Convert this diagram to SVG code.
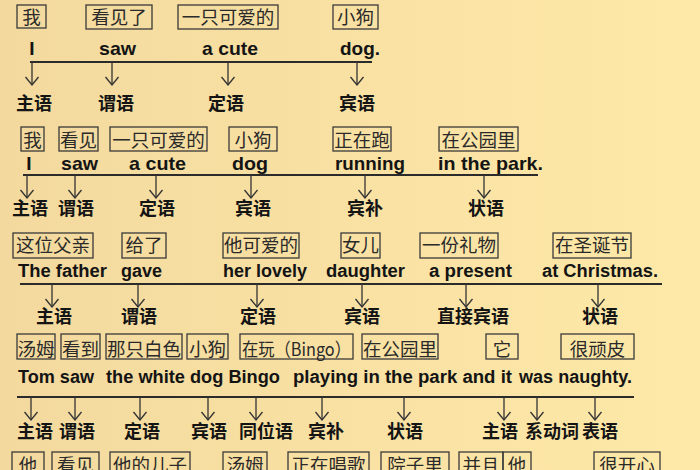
<svg xmlns="http://www.w3.org/2000/svg" width="700" height="470" viewBox="0 0 700 470">
<defs>
<linearGradient id="bg" x1="0" y1="0" x2="1" y2="0">
<stop offset="0" stop-color="#F3D99E"/>
<stop offset="1" stop-color="#FEE9A8"/>
</linearGradient>
<marker id="v" markerUnits="userSpaceOnUse" viewBox="-1 -8 10 16" refX="8" refY="0" markerWidth="10" markerHeight="16" orient="auto">
<path d="M0,-6.5 L8,0 L0,6.5" fill="none" stroke="#333" stroke-width="1.3"/>
</marker>
<style>
.box rect{fill:none;stroke:#3a3a3a;stroke-width:1.3}
.box text{font-family:"Noto Sans CJK SC",sans-serif;font-size:18.5px;fill:#2a2a2a;text-anchor:middle}
.en{font-family:"Liberation Sans",Arial,sans-serif;font-weight:bold;font-size:19px;fill:#141414}
.r3,.r4{font-size:18px}
.lb{font-family:"Noto Sans CJK SC",sans-serif;font-weight:bold;font-size:18px;fill:#141414;text-anchor:middle}
.rule{stroke:#2b2b2b;stroke-width:2}
.arr{stroke:#333;stroke-width:1.3;fill:none;marker-end:url(#v)}
</style>
</defs>
<rect width="700" height="470" fill="url(#bg)"/>

<!-- Sentence 1 -->
<g id="s1-boxes">
<g id="s1-b1" class="box"><rect x="17" y="5" width="29" height="23"/><text x="31.5" y="24">我</text></g>
<g id="s1-b2" class="box"><rect x="86" y="5" width="66" height="24"/><text x="119" y="24">看见了</text></g>
<g id="s1-b3" class="box"><rect x="178" y="5" width="100" height="24"/><text x="228" y="24">一只可爱的</text></g>
<g id="s1-b4" class="box"><rect x="333" y="5" width="45" height="24"/><text x="355.5" y="24">小狗</text></g>
</g>
<g id="s1-words" class="en">
<text x="32" y="55" text-anchor="middle">I</text>
<text x="99" y="55" textLength="37" lengthAdjust="spacingAndGlyphs">saw</text>
<text x="202" y="55" textLength="56" lengthAdjust="spacingAndGlyphs">a cute</text>
<text x="340" y="55" textLength="40" lengthAdjust="spacingAndGlyphs">dog.</text>
</g>
<g id="s1-labels" class="lb">
<text x="34" y="110">主语</text>
<text x="116" y="110">谓语</text>
<text x="226" y="110">定语</text>
<text x="357" y="110">宾语</text>
</g>

<!-- Sentence 2 -->
<g id="s2-boxes">
<g id="s2-b1" class="box"><rect x="21" y="127" width="23" height="24"/><text x="32.5" y="147">我</text></g>
<g id="s2-b2" class="box"><rect x="59" y="127" width="39" height="24"/><text x="78.5" y="147">看见</text></g>
<g id="s2-b3" class="box"><rect x="110" y="127" width="97" height="24"/><text x="158.5" y="147">一只可爱的</text></g>
<g id="s2-b4" class="box"><rect x="229" y="127" width="48" height="24"/><text x="253" y="147">小狗</text></g>
<g id="s2-b5" class="box"><rect x="333" y="127" width="58" height="24"/><text x="362" y="147">正在跑</text></g>
<g id="s2-b6" class="box"><rect x="439" y="127" width="79" height="24"/><text x="478.5" y="147">在公园里</text></g>
</g>
<g id="s2-words" class="en">
<text x="29" y="170" text-anchor="middle">I</text>
<text x="61" y="170" textLength="37" lengthAdjust="spacingAndGlyphs">saw</text>
<text x="129" y="170" textLength="57" lengthAdjust="spacingAndGlyphs">a cute</text>
<text x="232" y="170" textLength="36" lengthAdjust="spacingAndGlyphs">dog</text>
<text x="335" y="170" textLength="70" lengthAdjust="spacingAndGlyphs">running</text>
<text x="438" y="170" textLength="105" lengthAdjust="spacingAndGlyphs">in the park.</text>
</g>
<g id="s2-labels" class="lb">
<text x="30" y="215">主语</text>
<text x="76" y="215">谓语</text>
<text x="157" y="215">定语</text>
<text x="253" y="215">宾语</text>
<text x="365" y="215">宾补</text>
<text x="486" y="215">状语</text>
</g>

<!-- Sentence 3 -->
<g id="s3-boxes">
<g id="s3-b1" class="box"><rect x="13" y="233" width="80" height="25"/><text x="53" y="252">这位父亲</text></g>
<g id="s3-b2" class="box"><rect x="122" y="233" width="44" height="25"/><text x="144" y="252">给了</text></g>
<g id="s3-b3" class="box"><rect x="223" y="233" width="76" height="25"/><text x="261" y="252">他可爱的</text></g>
<g id="s3-b4" class="box"><rect x="341" y="233" width="39" height="25"/><text x="360.5" y="252">女儿</text></g>
<g id="s3-b5" class="box"><rect x="420" y="233" width="78" height="25"/><text x="459" y="252">一份礼物</text></g>
<g id="s3-b6" class="box"><rect x="553" y="233" width="78" height="25"/><text x="592" y="252">在圣诞节</text></g>
</g>
<g id="s3-words" class="en r3">
<text x="18" y="277" textLength="89" lengthAdjust="spacingAndGlyphs">The father</text>
<text x="121" y="277" textLength="41" lengthAdjust="spacingAndGlyphs">gave</text>
<text x="223" y="277" textLength="84" lengthAdjust="spacingAndGlyphs">her lovely</text>
<text x="326" y="277" textLength="79" lengthAdjust="spacingAndGlyphs">daughter</text>
<text x="429" y="277" textLength="83" lengthAdjust="spacingAndGlyphs">a present</text>
<text x="542" y="277" textLength="116" lengthAdjust="spacingAndGlyphs">at Christmas.</text>
</g>
<g id="s3-labels" class="lb">
<text x="54" y="323">主语</text>
<text x="139" y="323">谓语</text>
<text x="258" y="323">定语</text>
<text x="362" y="323">宾语</text>
<text x="473" y="323">直接宾语</text>
<text x="600" y="323">状语</text>
</g>

<!-- Sentence 4 -->
<g id="s4-boxes">
<g id="s4-b1" class="box"><rect x="17" y="334" width="38" height="25"/><text x="36" y="356">汤姆</text></g>
<g id="s4-b2" class="box"><rect x="61" y="334" width="39" height="25"/><text x="80.5" y="356">看到</text></g>
<g id="s4-b3" class="box"><rect x="106" y="334" width="76" height="25"/><text x="144" y="356">那只白色</text></g>
<g id="s4-b4" class="box"><rect x="187" y="334" width="41" height="25"/><text x="207.5" y="356">小狗</text></g>
<g id="s4-b5" class="box"><rect x="240" y="334" width="113" height="25"/><text x="296.5" y="356" textLength="109" lengthAdjust="spacingAndGlyphs">在玩（Bingo）</text></g>
<g id="s4-b6" class="box"><rect x="362" y="334" width="76" height="25"/><text x="400" y="356">在公园里</text></g>
<g id="s4-b7" class="box"><rect x="486" y="334" width="32" height="25"/><text x="502" y="356">它</text></g>
<g id="s4-b8" class="box"><rect x="561" y="334" width="73" height="25"/><text x="597.5" y="356">很顽皮</text></g>
</g>
<g id="s4-words" class="en r4">
<text x="18" y="383" textLength="76" lengthAdjust="spacingAndGlyphs">Tom saw</text>
<text x="106" y="383" textLength="174" lengthAdjust="spacingAndGlyphs">the white dog Bingo</text>
<text x="293" y="383" textLength="219" lengthAdjust="spacingAndGlyphs">playing in the park and it</text>
<text x="519" y="383" textLength="113" lengthAdjust="spacingAndGlyphs">was naughty.</text>
</g>
<g id="s4-labels" class="lb">
<text x="35" y="438">主语</text>
<text x="77" y="438">谓语</text>
<text x="142" y="438">定语</text>
<text x="209" y="438">宾语</text>
<text x="266" y="438">同位语</text>
<text x="326" y="438">宾补</text>
<text x="405" y="438">状语</text>
<text x="500" y="438">主语</text>
<text x="552" y="438">系动词</text>
<text x="600" y="438">表语</text>
</g>

<!-- Sentence 5 (cut off at the picture's lower edge, as in the reference) -->
<g id="s5-boxes">
<g id="s5-b1" class="box"><rect x="12" y="452" width="32" height="26"/><text x="28" y="472">他</text></g>
<g id="s5-b2" class="box"><rect x="52" y="452" width="47" height="26"/><text x="75.5" y="472">看见</text></g>
<g id="s5-b3" class="box"><rect x="110" y="452" width="80" height="26"/><text x="150" y="472">他的儿子</text></g>
<g id="s5-b4" class="box"><rect x="223" y="452" width="44" height="26"/><text x="245" y="472">汤姆</text></g>
<g id="s5-b5" class="box"><rect x="288" y="452" width="81" height="26"/><text x="328.5" y="472">正在唱歌</text></g>
<g id="s5-b6" class="box"><rect x="381" y="452" width="68" height="26"/><text x="415" y="472">院子里</text></g>
<g id="s5-b7" class="box"><rect x="459" y="452" width="44" height="26"/><text x="481" y="472">并且</text></g>
<g id="s5-b8" class="box"><rect x="503" y="452" width="28" height="26"/><text x="517" y="472">他</text></g>
<g id="s5-b9" class="box"><rect x="594" y="452" width="66" height="26"/><text x="627" y="472">很开心</text></g>
</g>

<g id="connectors">
<line class="rule" x1="30" y1="62" x2="372" y2="62"/>
<path class="arr" d="M32,62V85"/>
<path class="arr" d="M112,62V85"/>
<path class="arr" d="M228,62V85"/>
<path class="arr" d="M357,62V85"/>

<line class="rule" x1="23" y1="175" x2="538" y2="175"/>
<path class="arr" d="M27,175V198"/>
<path class="arr" d="M75,175V198"/>
<path class="arr" d="M156,175V198"/>
<path class="arr" d="M251,175V198"/>
<path class="arr" d="M365,175V198"/>
<path class="arr" d="M484,175V198"/>

<line class="rule" x1="20" y1="284" x2="662" y2="284"/>
<path class="arr" d="M52,284V307"/>
<path class="arr" d="M138,284V307"/>
<path class="arr" d="M257,284V307"/>
<path class="arr" d="M362,284V307"/>
<path class="arr" d="M466,284V307"/>
<path class="arr" d="M598,284V307"/>

<line class="rule" x1="17" y1="397" x2="634" y2="397"/>
<path class="arr" d="M31,397V420"/>
<path class="arr" d="M75,397V420"/>
<path class="arr" d="M140,397V420"/>
<path class="arr" d="M208,397V420"/>
<path class="arr" d="M256,397V420"/>
<path class="arr" d="M322,397V420"/>
<path class="arr" d="M404,397V420"/>
<path class="arr" d="M504,397V420"/>
<path class="arr" d="M537,397V420"/>
<path class="arr" d="M595,397V420"/>
</g>
</svg>
